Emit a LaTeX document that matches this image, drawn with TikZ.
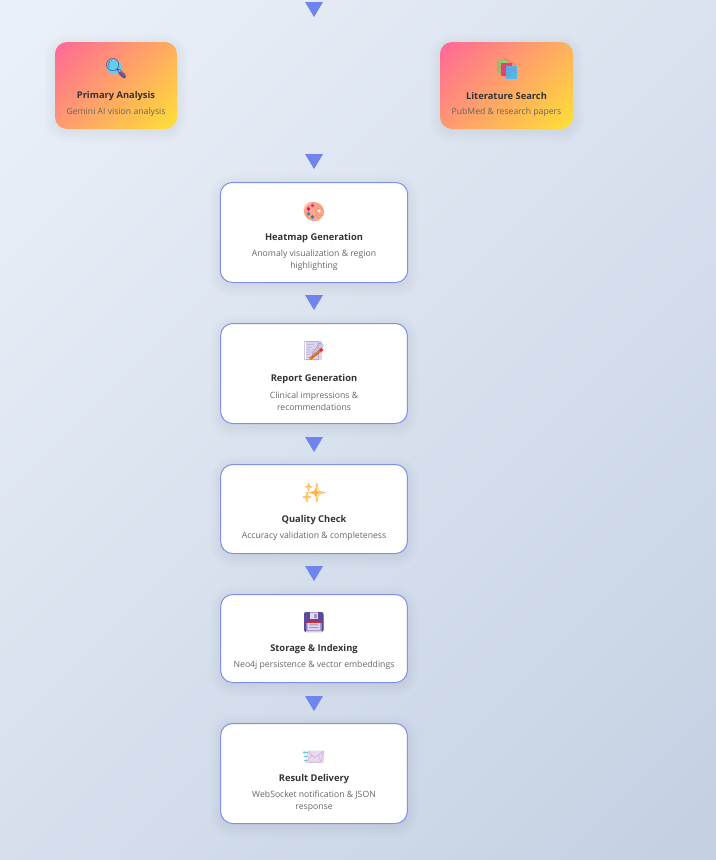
\documentclass[tikz,border=0pt]{standalone}
\usepackage{fontspec}
\setmainfont{Open Sans}
\newfontfamily\emojifont{Noto Emoji}
\usetikzlibrary{calc}
\usepackage{xcolor}

\definecolor{pagetop}{HTML}{EAF0F8}
\definecolor{pagebottom}{HTML}{C5D1E3}
\definecolor{cardpink}{HTML}{FF6B95}
\definecolor{cardyellow}{HTML}{FFDD38}
\definecolor{flowblue}{HTML}{6F84EE}
\definecolor{cardedge}{HTML}{7E90EC}
\definecolor{titlegray}{HTML}{333333}
\definecolor{descgray}{HTML}{666666}
\definecolor{lensblue}{HTML}{5FD0EE}
\definecolor{iconpurple}{HTML}{5B4B9B}
\definecolor{handlepurple}{HTML}{7A4F98}
\definecolor{bookgreen}{HTML}{8FD06A}
\definecolor{bookpink}{HTML}{E84070}
\definecolor{bookblue}{HTML}{50B8F0}
\definecolor{palettepeach}{HTML}{FFA890}
\definecolor{pagelilac}{HTML}{DCD4EC}
\definecolor{sparkorange}{HTML}{FFB040}
\definecolor{maillilac}{HTML}{E8D8F0}

\tikzset{
  flowcard/.style={draw=cardedge,line width=0.75pt,fill=white,rounded corners=9pt,inner sep=0pt},
  gradcard/.style={rounded corners=9pt,inner sep=0pt,path picture={
      \shade[top color=cardpink,bottom color=cardyellow,shading angle=45]
        ($(path picture bounding box.center)+(-#1,-#1)$) rectangle ($(path picture bounding box.center)+(#1,#1)$);}},
  cardtitle/.style={font=\fontsize{7}{9}\selectfont\bfseries,text=titlegray,inner sep=0pt},
  carddesc/.style={font=\fontsize{6.5}{9}\selectfont,text=descgray,inner sep=0pt,align=center},
  cardicon/.style={font=\fontsize{14}{14}\emojifont,inner sep=0pt},
  flowtip/.pic={\fill[flowblue] (-9,0) -- (9,0) -- (0,15) -- cycle;}
}

% soft shadow under a card: x, y, w, h
\newcommand{\softshadow}[4]{
  \foreach \grow in {0,...,11}{
    \pgfmathsetmacro\rad{9+\grow*0.75}
    \fill[black,opacity=0.0045,rounded corners=\rad pt]
      ({#1-#3/2-\grow},{#2-#4/2+3-\grow}) rectangle ({#1+#3/2+\grow},{#2+#4/2+3+\grow});
  }
}
% four pointed star: x, y, r
\newcommand{\sparkle}[3]{
  \fill[sparkorange] (#1,{#2-#3}) .. controls (#1,#2) .. ({#1+#3},#2)
    .. controls (#1,#2) .. (#1,{#2+#3}) .. controls (#1,#2) .. ({#1-#3},#2)
    .. controls (#1,#2) .. cycle;
}

\begin{document}
\begin{tikzpicture}[x=0.75pt,y=-0.75pt]
  \useasboundingbox (0,0) rectangle (716,860);
  \begin{scope}
    \clip (0,0) rectangle (716,860);
    \shade[top color=pagetop,bottom color=pagebottom,shading angle=45]
      (-162,-90) rectangle (878,950);
  \end{scope}

  % Shadows
  \softshadow{116}{85.5}{122}{87}
  \softshadow{506.5}{85.5}{133}{87}
  \softshadow{314}{232.5}{188}{101}
  \softshadow{314}{373.5}{187}{101}
  \softshadow{314}{509}{187}{90}
  \softshadow{314}{638.5}{187}{89}
  \softshadow{314}{773.5}{187}{101}

  % Cartes
  \node[gradcard=51.7pt,minimum width=91.5pt,minimum height=65.25pt] (primary) at (116,85.5) {};
  \node[gradcard=54.5pt,minimum width=99.75pt,minimum height=65.25pt] (literature) at (506.5,85.5) {};
  \node[flowcard,minimum width=140.5pt,minimum height=75pt] (heatmap) at (314,232.5) {};
  \node[flowcard,minimum width=140pt,minimum height=75pt] (report) at (314,373.5) {};
  \node[flowcard,minimum width=140pt,minimum height=66.75pt] (quality) at (314,509) {};
  \node[flowcard,minimum width=140pt,minimum height=66pt] (storage) at (314,638.5) {};
  \node[flowcard,minimum width=140pt,minimum height=75pt] (result) at (314,773.5) {};

  % Fleches
  \pic at (314,2) {flowtip};
  \pic at (314,154) {flowtip};
  \pic at (314,295) {flowtip};
  \pic at (314,437) {flowtip};
  \pic at (314,566) {flowtip};
  \pic at (314,696) {flowtip};

  % Textes
  \node[cardtitle] (primarytitle) at (116,96) {Primary Analysis};
  \node[carddesc] (primarydesc) at (116,112.5) {Gemini AI vision analysis};
  \node[cardtitle] (literaturetitle) at (506.5,96) {Literature Search};
  \node[carddesc] (literaturedesc) at (506.5,112.5) {PubMed \& research papers};
  \node[cardtitle] (heatmaptitle) at (314,238) {Heatmap Generation};
  \node[carddesc] (heatmapdesc) at (314,260) {Anomaly visualization \& region\\highlighting};
  \node[cardtitle] (reporttitle) at (314,379) {Report Generation};
  \node[carddesc] (reportdesc) at (314,401) {Clinical impressions \&\\recommendations};
  \node[cardtitle] (qualitytitle) at (314,520) {Quality Check};
  \node[carddesc] (qualitydesc) at (314,536) {Accuracy validation \& completeness};
  \node[cardtitle] (storagetitle) at (314,649) {Storage \& Indexing};
  \node[carddesc] (storagedesc) at (314,665.5) {Neo4j persistence \& vector embeddings};
  \node[cardtitle] (resulttitle) at (314,779) {Result Delivery};
  \node[carddesc] (resultdesc) at (314,801) {WebSocket notification \& JSON\\response};

  % Icones: colours under the glyphs
  \fill[lensblue] (114,67) circle (7.5);
  \draw[handlepurple,line width=2.6pt,line cap=round] (120,73) -- (124.5,77);
  \fill[bookgreen] (497,60) rectangle (508,73);
  \fill[bookpink] (501,62.5) rectangle (512,75.5);
  \fill[bookblue] (506,66) rectangle (516.5,79);
  \fill[palettepeach] (314,211.5) ellipse (10 and 9.5);
  \fill[magenta] (308.5,209) circle (1.8);
  \fill[violet!70!white] (312.5,205.5) circle (1.8);
  \fill[teal!70!cyan] (308.5,214) circle (1.8);
  \fill[blue!50!cyan] (312.5,217) circle (1.8);
  \fill[white] (319,211) circle (1.8);
  \fill[pagelilac] (306,341) rectangle (321.5,360);
  \draw[orange,line width=2.2pt] (310,359) -- (320,351);
  \draw[red!80!pink,line width=2.2pt] (320,351) -- (322.5,349);
  \sparkle{316}{492.5}{11}
  \sparkle{309}{486.5}{4.5}
  \sparkle{307}{497}{5}
  \fill[iconpurple,rounded corners=1.5pt] (304,612) rectangle (323.5,632);
  \fill[white!85!violet] (310,612) rectangle (318,619);
  \fill[red!85!pink] (306,621.5) rectangle (321.5,623);
  \fill[pagelilac] (306,623) rectangle (321.5,632);
  \fill[maillilac] (307.5,752) rectangle (323.5,763);
  \draw[lensblue,line width=1pt] (303,752.5) -- (307.5,752.5) (304,756.5) -- (307.5,756.5) (304,760.5) -- (307.5,760.5);

  % Icones: glyphs
  \node[cardicon,text=iconpurple] (primaryicon) at (116,68) {🔍};
  \node[cardicon,text=bookpink,opacity=0.3] (literatureicon) at (506.5,68) {📚};
  \node[cardicon,text=orange!55!red,opacity=0.35] (heatmapicon) at (314,212) {🎨};
  \node[cardicon,text=iconpurple,opacity=0.4] (reporticon) at (314,351) {📝};
  \node[cardicon,text=sparkorange] (qualityicon) at (314,493) {✨};
  \node[cardicon,text=iconpurple,opacity=0.6] (storageicon) at (314,622) {💾};
  \node[cardicon,text=violet!40!white,opacity=0.7] (resulticon) at (314,757) {📨};
\end{tikzpicture}
\end{document}
